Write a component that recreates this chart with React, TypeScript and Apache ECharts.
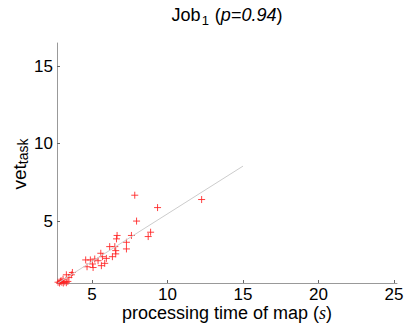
import React, { useEffect, useRef } from "react";
import * as echarts from "echarts";

const xTicks = [5, 10, 15, 20, 25];
const yTicks = [5, 10, 15];

const points: [number, number][] = [
  [2.75, 1.05], [2.85, 1.0], [2.9, 1.1], [3.0, 1.05], [3.1, 1.0], [3.2, 1.08],
  [3.3, 1.02], [2.95, 1.15], [3.4, 1.1], [3.08, 1.25],
  [7.83, 6.67], [9.34, 5.87], [12.26, 6.39], [7.95, 5.0], [8.88, 4.28], [8.72, 4.0],
  [7.61, 4.07], [6.66, 4.07], [6.62, 3.85], [7.28, 3.63], [7.28, 3.2], [6.17, 3.35],
  [6.51, 3.35], [6.57, 3.09], [6.57, 2.88], [5.58, 2.92], [5.69, 2.7], [5.95, 2.59],
  [6.35, 2.7], [5.4, 2.44], [5.18, 2.55], [5.84, 2.27], [5.62, 2.12], [4.89, 2.49],
  [4.58, 2.49], [5.03, 2.23], [5.07, 2.0], [4.67, 2.05], [3.7, 1.68], [3.63, 1.53],
  [3.3, 1.53], [3.47, 1.36],
];

const fitLine: [number, number][] = [
  [2.75, 1.0],
  [15, 8.55],
];

const font = "'Liberation Sans', Arial, Helvetica, sans-serif";

export default function App() {
  const ref = useRef<HTMLDivElement>(null);
  useEffect(() => {
    if (!ref.current) return;
    const chart = echarts.init(ref.current, undefined, { renderer: "svg" });
    const axisCommon = {
      axisLine: { show: true, lineStyle: { color: "#999", width: 1 } },
      splitLine: { show: false },
    };
    chart.setOption({
      animation: false,
      backgroundColor: "#fff",
      grid: { left: 57, right: 10, top: 43, bottom: 50, containLabel: false, outerBoundsMode: "none" },
      xAxis: {
        type: "value",
        min: 2.68,
        max: 25.2,
        ...axisCommon,
        axisTick: { show: true, inside: true, length: 3, lineStyle: { color: "#666" }, customValues: xTicks },
        axisLabel: { customValues: xTicks, color: "#000", fontSize: 17, fontFamily: font, margin: 3 },
      },
      yAxis: {
        type: "value",
        min: 1,
        max: 16.5,
        ...axisCommon,
        axisTick: { show: true, inside: true, length: 3, lineStyle: { color: "#666" }, customValues: yTicks },
        axisLabel: { customValues: yTicks, color: "#000", fontSize: 17, fontFamily: font, margin: 4 },
      },
      graphic: [
        {
          type: "text",
          x: 227,
          y: 15,
          style: {
            text: "{a|Job}{sub|1}{a| (}{i|p=0.94}{a|)}",
            align: "center",
            verticalAlign: "middle",
            rich: {
              a: { fontSize: 18, fontFamily: font, fill: "#000", lineHeight: 22 },
              i: { fontSize: 18, fontFamily: font, fontStyle: "italic", fill: "#000", lineHeight: 22 },
              sub: { fontSize: 13, fontFamily: font, fill: "#000", lineHeight: 22, padding: [10, 1, 0, 1] },
            },
          },
        },
        {
          type: "text",
          x: 227,
          y: 313,
          style: {
            text: "{a|processing time of map (}{s|s}{a|)}",
            align: "center",
            verticalAlign: "middle",
            rich: {
              a: { fontSize: 18, fontFamily: font, fill: "#000", lineHeight: 22 },
              s: { fontSize: 18, fontFamily: "'Liberation Serif', 'DejaVu Serif', serif", fontStyle: "italic", fill: "#000", lineHeight: 22 },
            },
          },
        },
        {
          type: "text",
          x: 19,
          y: 164,
          rotation: Math.PI / 2,
          style: {
            text: "{a|vet}{sub|task}",
            align: "center",
            verticalAlign: "middle",
            rich: {
              a: { fontSize: 19, fontFamily: font, fill: "#000", lineHeight: 22 },
              sub: { fontSize: 14, fontFamily: font, fill: "#000", lineHeight: 22, padding: [7, 0, 0, 0] },
            },
          },
        },
      ],
      series: [
        {
          type: "line",
          data: fitLine,
          symbol: "none",
          lineStyle: { color: "#cccccc", width: 1 },
          silent: true,
        },
        {
          type: "scatter",
          data: points,
          symbol: "path://M0,5L10,5M5,0L5,10",
          symbolSize: 7,
          itemStyle: { color: "none", borderColor: "#ff2020", borderWidth: 1, opacity: 0.85 },
        },
      ],
    });
    return () => chart.dispose();
  }, []);
  return <div ref={ref} style={{ width: 407, height: 333, position: "absolute", left: 0, top: 0 }} />;
}
